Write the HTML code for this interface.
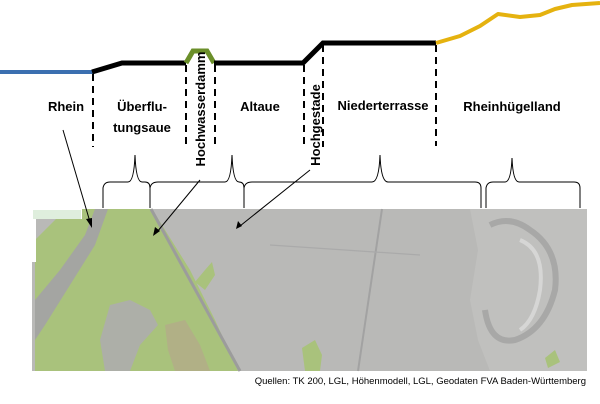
<!DOCTYPE html>
<html><head><meta charset="utf-8"><style>
body{margin:0;background:#fff;width:600px;height:404px;overflow:hidden}
svg{display:block}
text{font-family:"Liberation Sans",sans-serif}
</style></head><body>
<svg width="600" height="404" viewBox="0 0 600 404" xmlns="http://www.w3.org/2000/svg">
<!-- map -->
<rect x="32" y="209" width="555" height="162" fill="#b9b9b7"/>
<polygon points="35,240 60,215 75,209 152,209 190,270 215,320 238,371 35,371" fill="#a9c27c"/>
<polygon points="95,209 108,209 95,245 70,285 45,325 35,340 35,300 60,270 85,235" fill="#a4a5a2"/>
<polygon points="35,260 50,240 70,225 60,250 40,275 35,285" fill="#a9c27c"/>
<polygon points="110,305 130,300 150,310 158,325 140,345 130,371 105,371 100,340" fill="#adafa8"/>
<polygon points="165,325 185,320 200,345 210,371 175,371 168,350" fill="#b4a98a" opacity=".75"/>
<polygon points="195,282 205,270 212,262 215,275 205,290" fill="#a9c27c"/>
<polygon points="302,348 315,340 322,355 320,371 305,371" fill="#a9c27c"/>
<polygon points="470,209 587,209 587,371 490,371 478,340 470,300 478,250" fill="#c0c0be"/>
<path d="M490,225 q20,-10 40,5 q30,20 25,60 q-10,40 -40,50 q-25,5 -30,-30" fill="none" stroke="#8f8f8f" stroke-width="6" opacity=".5"/>
<path d="M520,240 q25,10 20,50 q-5,30 -20,40" fill="none" stroke="#e4e4e4" stroke-width="4" opacity=".6"/>
<polygon points="545,358 555,350 560,362 548,368" fill="#a9c27c"/>
<line x1="151" y1="209" x2="240" y2="371" stroke="#9c9c9c" stroke-width="3"/>
<line x1="382" y1="209" x2="358" y2="371" stroke="#a2a2a2" stroke-width="2"/>
<line x1="270" y1="245" x2="420" y2="255" stroke="#aaa" stroke-width="1.2"/>
<polygon points="32,209 82,209 82,219 36,219 36,262 32,262" fill="#fff"/>
<rect x="33" y="210" width="48" height="9" fill="#dfeedd"/>
<!-- profile -->
<line x1="0" y1="72" x2="93" y2="72" stroke="#3b6fb0" stroke-width="4"/>
<polyline points="92,72 122,63 186,63" fill="none" stroke="#000" stroke-width="5"/>
<polyline points="186,63 193,51 207,51 214,63" fill="none" stroke="#6b8f2a" stroke-width="5"/>
<polyline points="214,63 303,63 323,43 436,43" fill="none" stroke="#000" stroke-width="5"/>
<polyline points="436,43 460,36 480,26 498,14 520,17 540,15 555,9 572,5 600,3" fill="none" stroke="#e5b20f" stroke-width="4" stroke-linejoin="round"/>
<!-- dashed lines -->
<g stroke="#000" stroke-width="2" stroke-dasharray="7,5">
<line x1="93" y1="74" x2="93" y2="147"/>
<line x1="186" y1="65" x2="186" y2="147"/>
<line x1="215" y1="65" x2="215" y2="147"/>
<line x1="304" y1="65" x2="304" y2="147"/>
<line x1="323" y1="45" x2="323" y2="147"/>
<line x1="436" y1="45" x2="436" y2="146"/>
</g>
<!-- labels -->
<g font-weight="bold" font-size="13" fill="#000" text-anchor="middle">
<text x="66" y="111">Rhein</text>
<text x="142" y="111">Überflu-</text>
<text x="142" y="132">tungsaue</text>
<text x="260" y="111">Altaue</text>
<text x="383" y="110">Niederterrasse</text>
<text x="512" y="111">Rheinhügelland</text>
<text transform="translate(205,109) rotate(-90)">Hochwasserdamm</text>
<text transform="translate(320,125) rotate(-90)">Hochgestade</text>
</g>
<!-- braces -->
<g fill="none" stroke="#000" stroke-width="1">
<path d="M103,208 L103,188 Q104,182 110,182 L128,182 Q134,182 135,155 Q136,182 142,182 L145,182 Q150,182 150,188 L150,208"/>
<path d="M150,208 L150,188 Q151,182 158,182 L225,182 Q231,182 232,155 Q233,182 239,182 Q244,182 244,188 L244,208"/>
<path d="M244,208 L244,188 Q245,182 252,182 L372,182 Q379,182 380,155 Q381,182 388,182 L475,182 Q481,182 481,188 L481,208"/>
<path d="M486,208 L486,188 Q487,182 493,182 L505,182 Q511,182 512,158 Q513,182 519,182 L574,182 Q580,182 580,188 L580,208"/>
</g>
<!-- arrows -->
<g stroke="#000" stroke-width="1">
<line x1="63" y1="130" x2="90" y2="222"/>
<line x1="200" y1="180" x2="157" y2="232"/>
<line x1="310" y1="170" x2="240" y2="226"/>
</g>
<polygon points="92,228 86,219 92,218" fill="#000"/>
<polygon points="153,236 155,227 160,231" fill="#000"/>
<polygon points="236,229 238,221 242,226" fill="#000"/>
<text x="586" y="384" font-size="9.5" text-anchor="end" fill="#000">Quellen: TK 200, LGL, Höhenmodell, LGL, Geodaten FVA Baden-Württemberg</text>
</svg>
</body></html>
